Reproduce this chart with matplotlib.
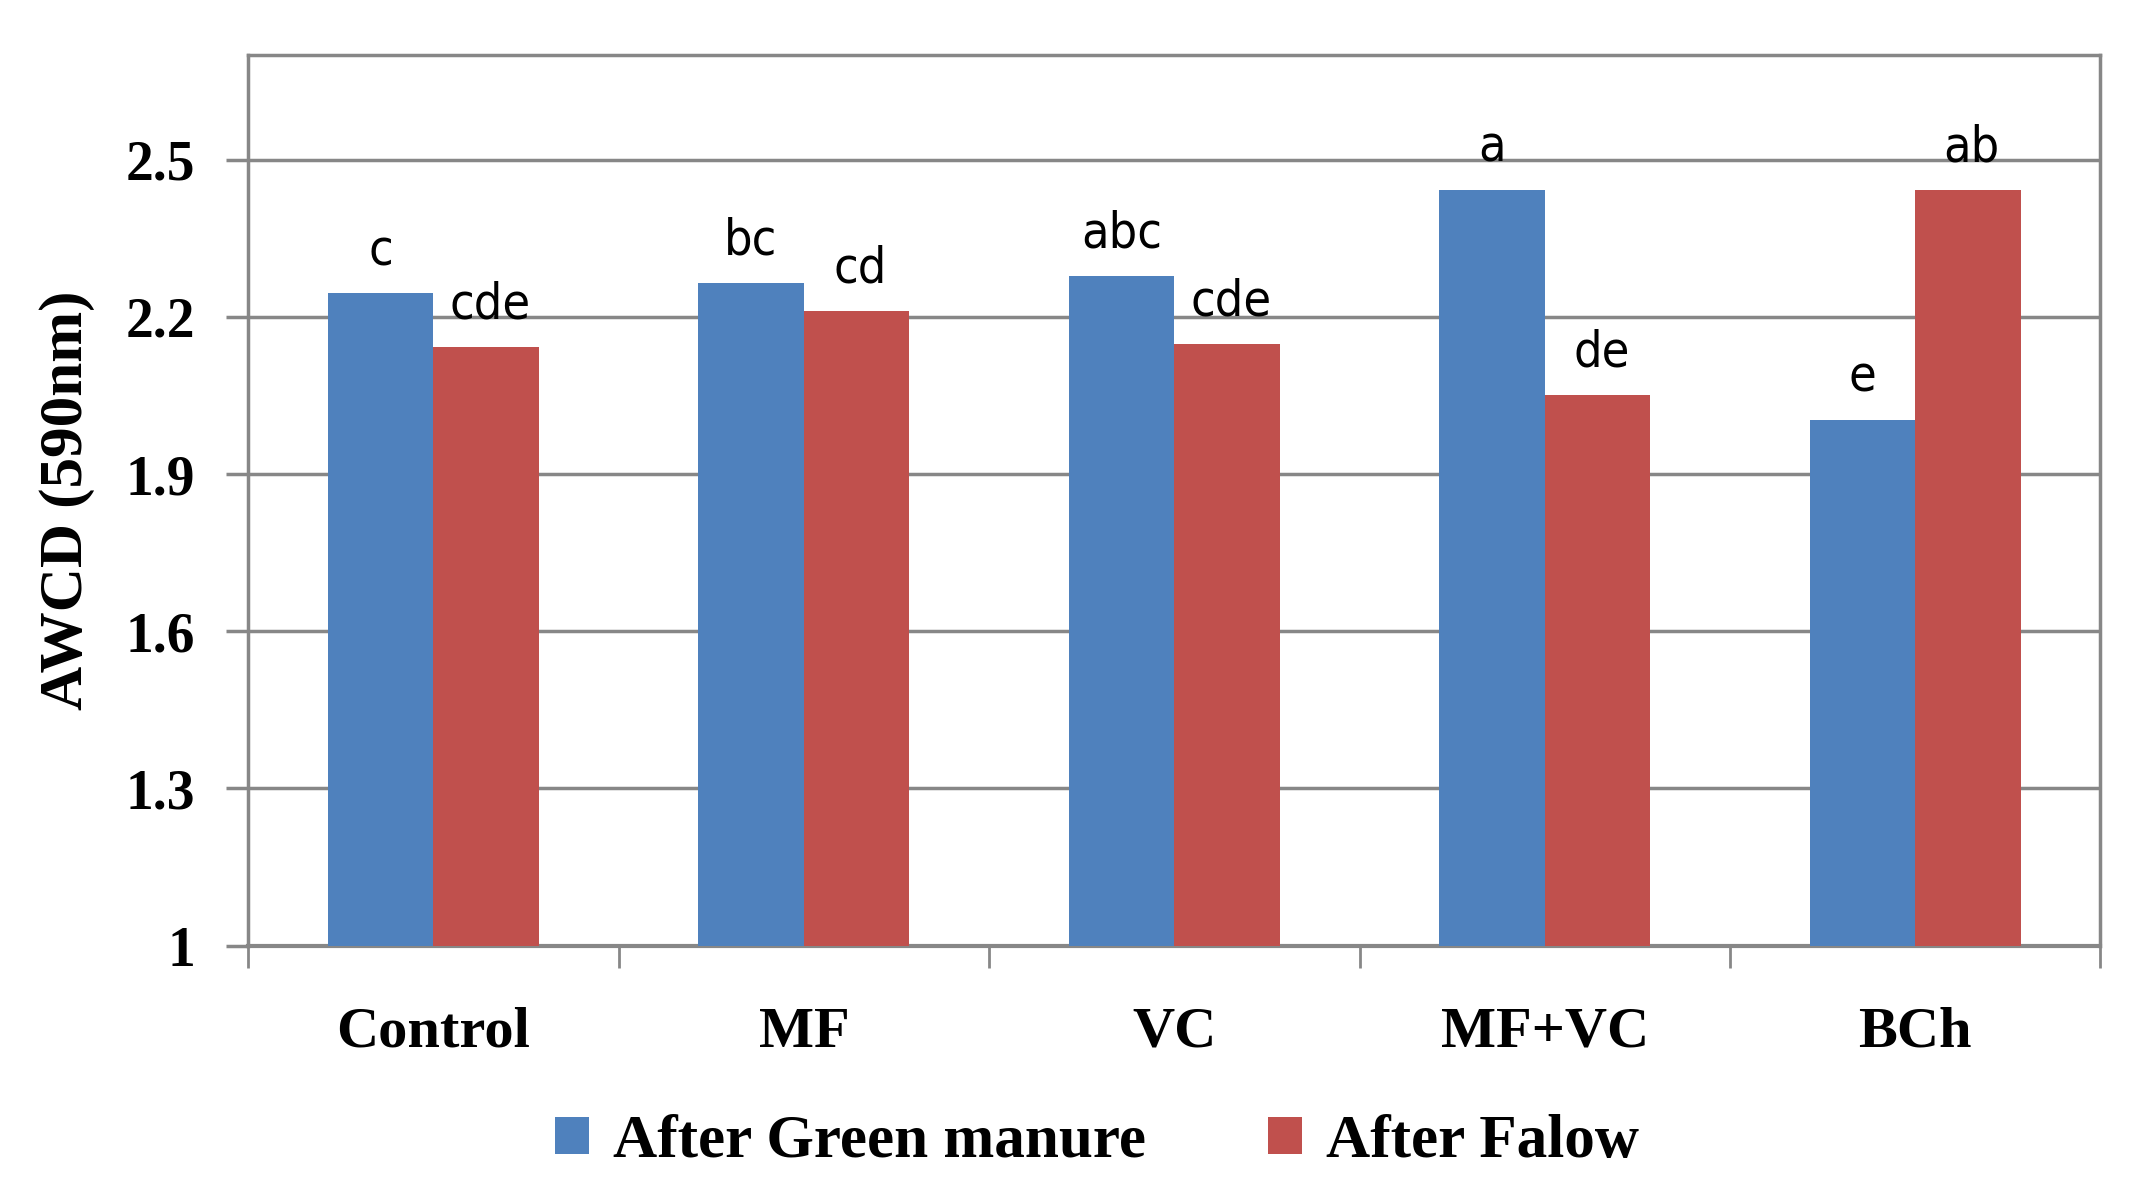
import matplotlib
matplotlib.use("Agg")
import matplotlib.pyplot as plt
import numpy as np

categories = ["Control", "MF", "VC", "MF+VC", "BCh"]
green_manure = [2.245, 2.265, 2.278, 2.443, 2.004]
fallow = [2.143, 2.211, 2.148, 2.051, 2.443]
green_letters = ["c", "bc", "abc", "a", "e"]
fallow_letters = ["cde", "cd", "cde", "de", "ab"]
y_ticks = [1, 1.3, 1.6, 1.9, 2.2, 2.5]

BLUE = "#4F81BD"
RED = "#C0504D"
GRID = "#878787"
serif = ["Liberation Serif", "DejaVu Serif"]
narrow = ["DejaVu Sans"]

fig = plt.figure(figsize=(21.39, 11.97), dpi=100)
ax = fig.add_axes([0.116, 0.210, 0.866, 0.744])

x = np.arange(len(categories))
w = 0.285
ax.bar(x - w / 2, np.array(green_manure) - 1, w, bottom=1, color=BLUE,
       label="After Green manure", zorder=3)
ax.bar(x + w / 2, np.array(fallow) - 1, w, bottom=1, color=RED,
       label="After Falow", zorder=3)

for i in range(len(categories)):
    ax.text(x[i] - w / 2, green_manure[i] + 0.035, green_letters[i],
            ha="center", va="bottom", fontsize=36, family=narrow,
            fontstretch="condensed", zorder=4)
    ax.text(x[i] + w / 2 + 0.01, fallow[i] + 0.035, fallow_letters[i],
            ha="center", va="bottom", fontsize=36, family=narrow,
            fontstretch="condensed", zorder=4)

ax.set_xlim(-0.5, len(categories) - 0.5)
ax.set_ylim(1, 2.7)
ax.set_yticks(y_ticks)
ax.set_yticklabels([f"{t:g}" for t in y_ticks], family=serif,
                   fontweight="bold", fontsize=40)
ax.yaxis.grid(True, color=GRID, linewidth=2.5, zorder=0)

ax.set_xticks(np.arange(len(categories) + 1) - 0.5)
ax.set_xticklabels([])
ax.set_xticks(x, minor=True)
ax.set_xticklabels(categories, minor=True, family=serif,
                   fontweight="bold", fontsize=42)
ax.tick_params(axis="x", which="major", length=16, width=2, color=GRID)
ax.tick_params(axis="x", which="minor", length=0, pad=44)
ax.tick_params(axis="y", length=16, width=2.5, color=GRID, pad=22)

for s in ax.spines.values():
    s.set_color(GRID)
    s.set_linewidth(2.5)
ax.spines["bottom"].set_linewidth(3)

ax.set_ylabel("AWCD (590nm)", family=serif, fontweight="bold",
              fontsize=44, labelpad=22)

fig.legend(loc="center", bbox_to_anchor=(0.513, 0.046), ncol=2, frameon=False,
           prop={"family": serif, "weight": "bold", "size": 44},
           handlelength=0.55, handleheight=0.55, handletextpad=0.4,
           columnspacing=2.0)

fig.savefig("out.png", dpi=100)
